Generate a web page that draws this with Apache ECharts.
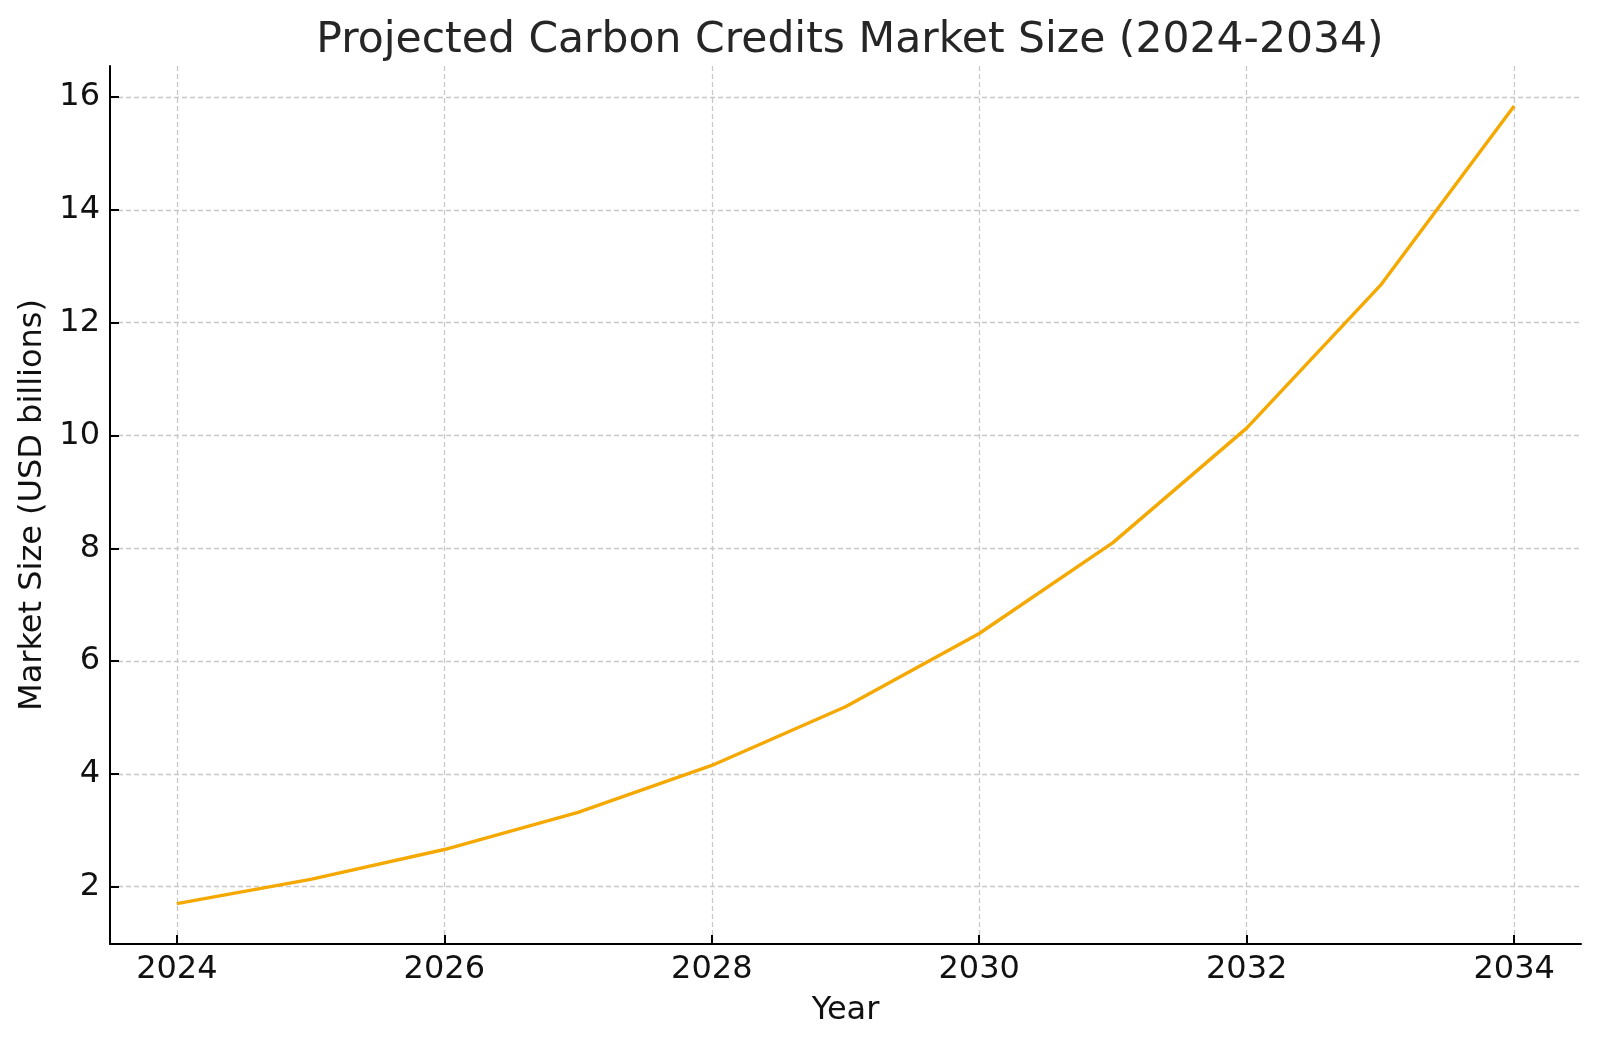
<!DOCTYPE html>
<html>
<head>
<meta charset="utf-8">
<title>Projected Carbon Credits Market Size</title>
<script src="https://cdn.jsdelivr.net/npm/echarts@6/dist/echarts.min.js"></script>
<style>
    html, body { margin: 0; padding: 0; background: #fff; }
    #chart { width: 1600px; height: 1045px; }
</style>
</head>
<body>
<div id="chart"></div>
<script>
// values
const years = [2024, 2025, 2026, 2027, 2028, 2029, 2030, 2031, 2032, 2033, 2034];
const marketSize = [1.70, 2.13, 2.66, 3.32, 4.15, 5.19, 6.49, 8.10, 10.13, 12.66, 15.84];
const xTicks = [2024, 2026, 2028, 2030, 2032, 2034];
const yTicks = [2, 4, 6, 8, 10, 12, 14, 16];

document.addEventListener('DOMContentLoaded', function () {
    const myChart = echarts.init(document.getElementById('chart'));
    const font = 'DejaVu Sans';

    const gridLine = {
        show: true,
        lineStyle: { color: '#c8c8c8', width: 1.3, type: [5, 3] }
    };

    const option = {
        animation: false,
        title: {
            text: 'Projected Carbon Credits Market Size (2024-2034)',
            left: 845,
            textAlign: 'center',
            top: 14,
            textStyle: { fontFamily: font, fontSize: 42.5, fontWeight: 'normal', color: '#262626' }
        },
        grid: { left: 110, right: 19, top: 66, bottom: 101, containLabel: false },
        xAxis: {
            type: 'value',
            min: 2023.5,
            max: 2034.5,
            name: 'Year',
            nameLocation: 'middle',
            nameGap: 51,
            nameTextStyle: { fontFamily: font, fontSize: 32, color: '#111' },
            axisLine: { show: true, onZero: false, lineStyle: { color: '#000', width: 2 } },
            axisTick: { show: true, length: 9, inside: true, customValues: xTicks, lineStyle: { color: '#000', width: 2 } },
            axisLabel: { customValues: xTicks, margin: 10, fontFamily: font, fontSize: 32, color: '#111', formatter: v => String(v) },
            splitLine: gridLine
        },
        yAxis: {
            type: 'value',
            min: 0.985,
            max: 16.55,
            name: 'Market Size (USD billions)',
            nameLocation: 'middle',
            nameGap: 61,
            nameRotate: 90,
            nameTextStyle: { fontFamily: font, fontSize: 32, color: '#111' },
            axisLine: { show: true, onZero: false, lineStyle: { color: '#000', width: 2 } },
            axisTick: { show: true, length: 9, inside: true, customValues: yTicks, lineStyle: { color: '#000', width: 2 } },
            axisLabel: { customValues: yTicks, margin: 10, fontFamily: font, fontSize: 32, color: '#111' },
            splitLine: gridLine
        },
        series: [{
            name: 'Market Size',
            type: 'line',
            data: years.map((y, i) => [y, marketSize[i]]),
            showSymbol: false,
            symbol: 'none',
            lineStyle: { color: '#f5a800', width: 3.4 },
            itemStyle: { color: '#f5a800' }
        }]
    };

    myChart.setOption(option);
});
</script>
</body>
</html>
